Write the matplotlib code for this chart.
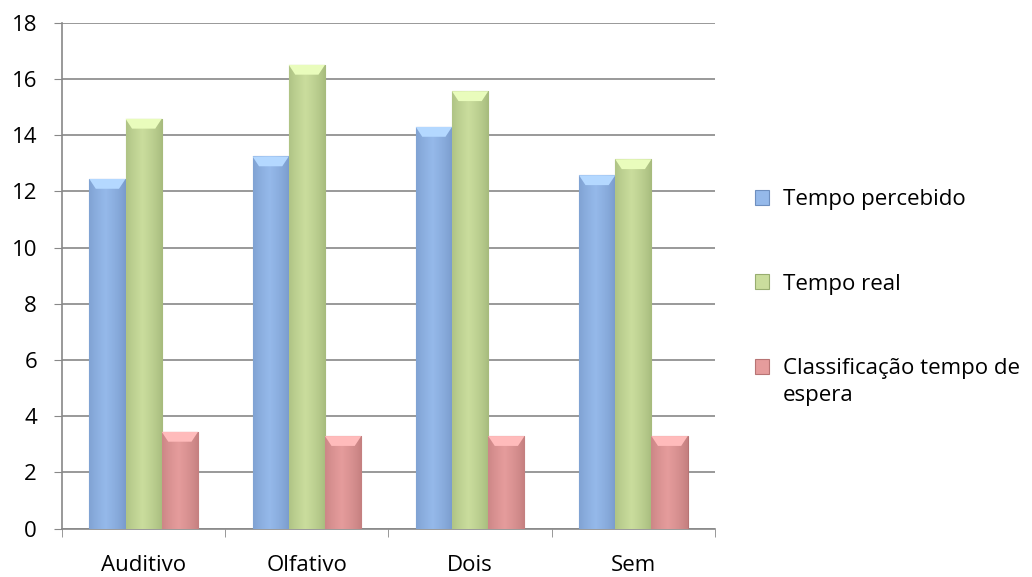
import numpy as np
import matplotlib
matplotlib.use("Agg")
import matplotlib.pyplot as plt
from matplotlib.colors import to_rgb

categories = ["Auditivo", "Olfativo", "Dois", "Sem"]
tempo_percebido = [12.44, 13.24, 14.29, 12.57]
tempo_real = [14.58, 16.5, 15.56, 13.14]
classificacao = [3.44, 3.29, 3.29, 3.29]
series_labels = ["Tempo percebido", "Tempo real", "Classificação tempo de"]
label_tail = "espera"
y_ticks = [0, 2, 4, 6, 8, 10, 12, 14, 16, 18]

colors = ["#95B9EA", "#CADD9D", "#E59C9C"]
edges = ["#6E8FBF", "#98AD70", "#B77474"]

plt.rcParams['font.family'] = ['Open Sans', 'DejaVu Sans']
FS = 16

fig = plt.figure(figsize=(10.32, 5.77), dpi=100)
ax = fig.add_axes([0.0601, 0.084, 0.6327, 0.8767])

x = np.arange(len(categories))
w = 0.222
series = [tempo_percebido, tempo_real, classificacao]
handles = []
for i, vals in enumerate(series):
    bars = ax.bar(x + (i - 1) * w, vals, width=w, color=colors[i],
                  edgecolor=edges[i], linewidth=0.8, zorder=3, label=series_labels[i])
    handles.append(bars)
    base = np.array(to_rgb(colors[i]))
    dark = np.array(to_rgb(edges[i]))
    for b in bars:
        n = 64
        t = np.linspace(0, 1, n)
        prof = np.clip(1 - np.abs(t - 0.45) * 1.6, 0, 1) ** 0.6
        img = dark[None, :] * (1 - prof[:, None]) + base[None, :] * prof[:, None]
        img = img[None, :, :]
        x0, y0 = b.get_x(), b.get_y()
        bw, bh = b.get_width(), b.get_height()
        im = ax.imshow(img, extent=[x0, x0 + bw, y0, y0 + bh], aspect='auto',
                       zorder=3.5, interpolation='bicubic')
        im.set_clip_path(b)
        top = y0 + bh
        bev = 0.35
        ax.fill([x0, x0 + bw, x0 + bw * 0.82, x0 + bw * 0.18],
                [top, top, top - bev, top - bev],
                color=tuple(np.clip(base + 0.12, 0, 1)), zorder=3.6, lw=0)

ax.set_xlim(-0.5, len(categories) - 0.5)
ax.set_ylim(0, 18)
ax.set_yticks(y_ticks)
ax.set_xticks(x)
ax.set_xticklabels(categories)
ax.set_xticks(np.arange(len(categories) + 1) - 0.5, minor=True)
ax.tick_params(axis='x', which='major', length=0, pad=19, labelsize=FS)
ax.tick_params(axis='x', which='minor', length=6, color='#888888', direction='out')
ax.tick_params(axis='y', length=6, color='#888888', labelsize=FS, pad=12)
ax.grid(axis='y', color='#888888', linewidth=1.2, zorder=0)
ax.set_axisbelow(True)
for s in ['top', 'right']:
    ax.spines[s].set_visible(False)
for s in ['left', 'bottom']:
    ax.spines[s].set_color('#888888')
    ax.spines[s].set_linewidth(1.2)

leg = fig.legend(handles=handles, labels=series_labels, loc='upper left',
                 bbox_to_anchor=(0.7316, 0.6726), frameon=False, fontsize=FS,
                 labelspacing=2.87, handlelength=0.65, handleheight=0.65,
                 handletextpad=0.6, borderpad=0, borderaxespad=0)

fig.canvas.draw()
bb = leg.get_texts()[2].get_window_extent()
inv = fig.transFigure.inverted()
(x0f, y0f) = inv.transform((bb.x0, bb.y0))
fig.text(x0f, y0f - 0.01, label_tail, fontsize=FS, va='top', ha='left')

fig.savefig("out.png", dpi=100)
